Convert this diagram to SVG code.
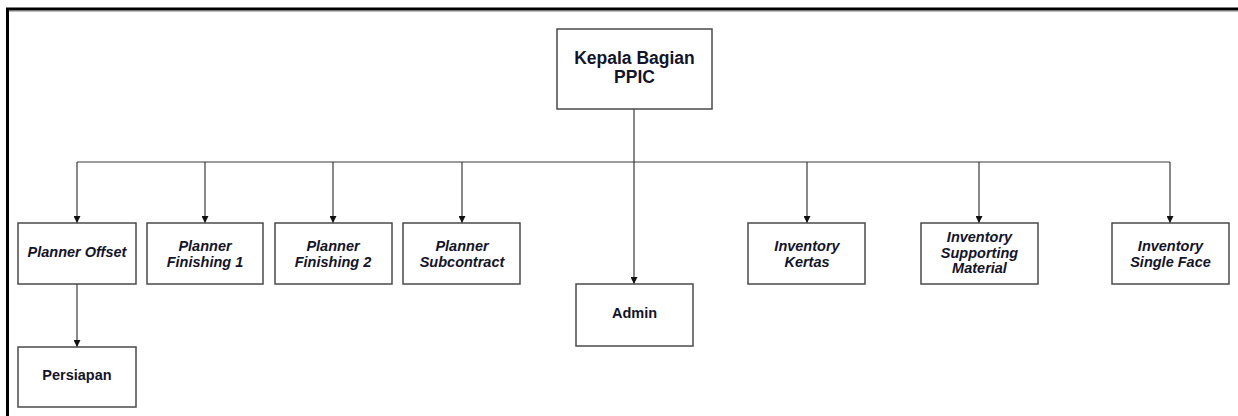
<svg xmlns="http://www.w3.org/2000/svg" width="1238" height="416" viewBox="0 0 1238 416">
<style>
.box{fill:#fff;stroke:#4a4a4a;stroke-width:1.5}
.t{font-family:"Liberation Sans",Arial,sans-serif;font-weight:bold;font-size:14.5px;fill:#141428;text-anchor:middle}
.i{font-style:italic}
.c{fill:none;stroke:#3a3a3a;stroke-width:1.2}
</style>
<defs>
<marker id="ah" viewBox="0 0 10 10" refX="10" refY="5" markerWidth="7" markerHeight="7" markerUnits="userSpaceOnUse" orient="auto">
<path d="M0,0 L10,5 L0,10 z" fill="#111"/>
</marker>
</defs>
<rect width="1238" height="416" fill="#fff"/>
<g id="frame">
<line x1="6" y1="9" x2="1238" y2="9" stroke="#000" stroke-width="3"/>
<line x1="7.5" y1="8" x2="7.5" y2="416" stroke="#000" stroke-width="3"/>
<line x1="9" y1="11" x2="1238" y2="11" stroke="#777" stroke-width="1"/>
</g>
<g id="connectors">
<line class="c" x1="634" y1="109" x2="634" y2="162"/>
<line class="c" x1="77" y1="162" x2="1170" y2="162"/>
<line class="c" x1="77" y1="162" x2="77" y2="223" marker-end="url(#ah)"/>
<line class="c" x1="205" y1="162" x2="205" y2="223" marker-end="url(#ah)"/>
<line class="c" x1="333" y1="162" x2="333" y2="223" marker-end="url(#ah)"/>
<line class="c" x1="462" y1="162" x2="462" y2="223" marker-end="url(#ah)"/>
<line class="c" x1="634" y1="162" x2="634" y2="284" marker-end="url(#ah)"/>
<line class="c" x1="807" y1="162" x2="807" y2="223" marker-end="url(#ah)"/>
<line class="c" x1="979" y1="162" x2="979" y2="223" marker-end="url(#ah)"/>
<line class="c" x1="1170" y1="162" x2="1170" y2="223" marker-end="url(#ah)"/>
<line class="c" x1="77" y1="284" x2="77" y2="347" marker-end="url(#ah)"/>
</g>
<g id="kepala">
<rect class="box" x="557" y="29" width="155" height="80"/>
<text class="t" x="634.5" y="64" style="font-size:17.5px">Kepala Bagian</text>
<text class="t" x="634.5" y="83" style="font-size:17.5px">PPIC</text>
</g>
<g id="planner-offset">
<rect class="box" x="18" y="223" width="118" height="61"/>
<text class="t i" x="77" y="257">Planner Offset</text>
</g>
<g id="planner-finishing-1">
<rect class="box" x="147" y="223" width="116" height="61"/>
<text class="t i" x="205" y="251">Planner</text>
<text class="t i" x="205" y="267">Finishing 1</text>
</g>
<g id="planner-finishing-2">
<rect class="box" x="275" y="223" width="117" height="61"/>
<text class="t i" x="333" y="251">Planner</text>
<text class="t i" x="333" y="267">Finishing 2</text>
</g>
<g id="planner-subcontract">
<rect class="box" x="403" y="223" width="117" height="61"/>
<text class="t i" x="462" y="251">Planner</text>
<text class="t i" x="462" y="267">Subcontract</text>
</g>
<g id="admin">
<rect class="box" x="576" y="284" width="117" height="62"/>
<text class="t" x="634.5" y="318">Admin</text>
</g>
<g id="inventory-kertas">
<rect class="box" x="748" y="223" width="117" height="61"/>
<text class="t i" x="807" y="251">Inventory</text>
<text class="t i" x="807" y="267">Kertas</text>
</g>
<g id="inventory-supporting">
<rect class="box" x="921" y="223" width="117" height="61"/>
<text class="t i" x="979.5" y="242">Inventory</text>
<text class="t i" x="979.5" y="258">Supporting</text>
<text class="t i" x="979.5" y="273">Material</text>
</g>
<g id="inventory-single-face">
<rect class="box" x="1112" y="223" width="117" height="61"/>
<text class="t i" x="1170.5" y="251">Inventory</text>
<text class="t i" x="1170.5" y="267">Single Face</text>
</g>
<g id="persiapan">
<rect class="box" x="18" y="347" width="118" height="60"/>
<text class="t" x="77" y="380">Persiapan</text>
</g>
</svg>
